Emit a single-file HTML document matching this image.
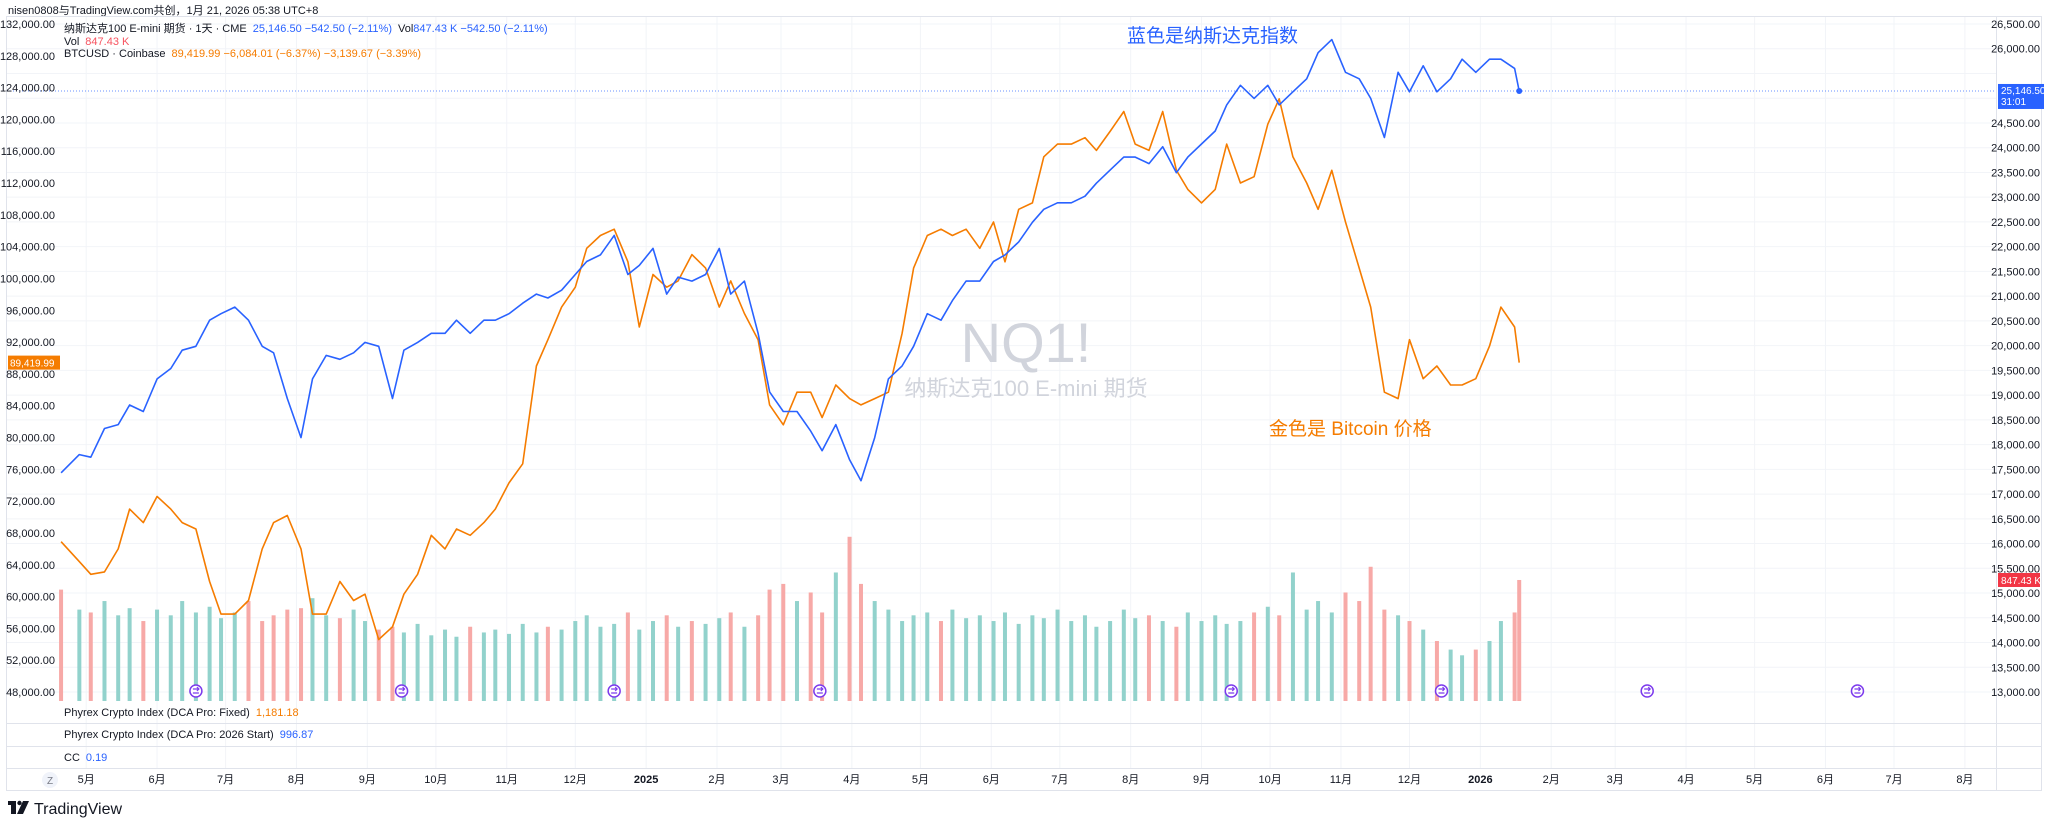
<!DOCTYPE html>
<html><head><meta charset="utf-8"><style>
html,body{margin:0;padding:0;background:#fff;}
svg{display:block;font-family:"Liberation Sans","Noto Sans CJK SC",sans-serif;}
</style></head>
<body>
<svg id="chart" width="2048" height="828" viewBox="0 0 2048 828" xmlns="http://www.w3.org/2000/svg">
  <text x="8" y="14" font-size="11" fill="#131722">nisen0808与TradingView.com共创，1月 21, 2026 05:38 UTC+8</text>
  <rect x="6.5" y="16.5" width="2035" height="774" fill="none" stroke="#e0e3eb"/>
  <g id="grid"></g>
  <g id="vol"></g>
  <g id="lines"></g>
  <g id="axes"></g>
  <g font-size="11">
    <text x="64" y="32"><tspan fill="#131722">纳斯达克100 E-mini 期货 · 1天 · CME</tspan><tspan fill="#2962ff" dx="6">25,146.50  −542.50 (−2.11%)</tspan><tspan fill="#131722" dx="6">Vol</tspan><tspan fill="#2962ff">847.43 K  −542.50 (−2.11%)</tspan></text>
    <text x="64" y="45"><tspan fill="#131722">Vol</tspan><tspan fill="#f7525f" dx="6">847.43 K</tspan></text>
    <text x="64" y="57"><tspan fill="#131722">BTCUSD · Coinbase</tspan><tspan fill="#f57c00" dx="6">89,419.99  −6,084.01 (−6.37%)  −3,139.67 (−3.39%)</tspan></text>
  </g>
  <text x="1026" y="362" font-size="56" fill="#d1d4dc" text-anchor="middle">NQ1!</text>
  <text x="1026" y="396" font-size="22" fill="#d1d4dc" text-anchor="middle">纳斯达克100 E-mini 期货</text>
  <text x="1127" y="42" font-size="19" fill="#2962ff">蓝色是纳斯达克指数</text>
  <text x="1269" y="435" font-size="19" fill="#f57c00">金色是 Bitcoin 价格</text>
  <g font-size="11">
    <line x1="7" x2="2041" y1="723.5" y2="723.5" stroke="#e0e3eb"/>
    <line x1="7" x2="2041" y1="746.5" y2="746.5" stroke="#e0e3eb"/>
    <line x1="7" x2="2041" y1="768.5" y2="768.5" stroke="#e0e3eb"/>
    <text x="64" y="716"><tspan fill="#131722">Phyrex Crypto Index (DCA Pro: Fixed)</tspan><tspan fill="#f57c00" dx="6">1,181.18</tspan></text>
    <text x="64" y="738"><tspan fill="#131722">Phyrex Crypto Index (DCA Pro: 2026 Start)</tspan><tspan fill="#2962ff" dx="6">996.87</tspan></text>
    <text x="64" y="761"><tspan fill="#131722">CC</tspan><tspan fill="#2962ff" dx="6">0.19</tspan></text>
  </g>
  <g><circle cx="50" cy="780" r="8" fill="#f0f3fa"/><text x="50" y="784" font-size="10" fill="#787b86" text-anchor="middle">Z</text></g>
  <g>
    <rect x="8" y="801" width="8" height="4" fill="#131722"/><rect x="11" y="801" width="5" height="13" fill="#131722"/><circle cx="19.5" cy="803" r="2.2" fill="#131722"/><polygon points="23,801 29,801 23,814 17,814" fill="#131722"/>
    <text x="34" y="814" font-size="16" fill="#131722">TradingView</text>
  </g>
</svg>
<script>
// days since 2024-05-01
const days = [-11,-3,2,8,14,19,25,31,37,42,
48,54,59,65,71,77,82,88,94,99,
105,111,117,122,128,134,139,145,151,157,
162,168,174,179,185,191,197,202,208,214,
219,225,231,237,242,248,254,259,265,271,
277,282,288,294,299,305,311,317,322,328,
334,339,345,351,357,362,368,374,379,385,
391,397,402,408,414,419,425,431,437,442,
448,454,459,465,471,477,482,488,494,499,
505,511,517,522,528,534,539,545,551,557,
562,568,574,579,585,591,597,602,608,614,
619,625,627];
const nqClose = [17429,17798,17745,18325,18404,18800,18668,19327,19538,19907,
19987,20514,20646,20778,20514,19987,19855,18932,18141,19327,
19802,19723,19855,20066,19987,18932,19907,20066,20250,20250,
20514,20250,20514,20514,20646,20857,21041,20962,21121,21437,
21701,21833,22228,21437,21622,21964,21041,21384,21305,21437,
21964,21041,21305,20250,19064,18668,18668,18273,17877,18404,
17692,17270,18141,19327,19591,19987,20646,20514,20910,21305,
21305,21701,21833,22096,22492,22755,22887,22887,23019,23283,
23547,23810,23810,23678,24021,23494,23810,24074,24338,24865,
25261,24997,25261,24865,25129,25392,25920,26184,25524,25392,
24997,24206,25524,25129,25656,25129,25392,25788,25524,25788,
25788,25603,25146.5];
const btcClose = [66.9,64.4,62.8,63.1,66.0,71.0,69.3,72.6,71.0,69.3,
68.5,61.9,57.8,57.8,59.5,66.0,69.3,70.2,66.0,57.8,
57.8,61.9,59.5,60.3,54.6,56.2,60.3,62.8,67.7,66.0,
68.5,67.7,69.3,71.0,74.3,76.7,89.0,92.3,96.4,98.9,
103.8,105.4,106.2,102.1,93.9,100.5,98.9,99.7,103.0,101.3,
96.4,99.7,95.6,92.3,84.1,81.6,85.7,85.7,82.5,86.6,
84.9,84.1,84.9,85.7,93.1,101.3,105.4,106.2,105.4,106.2,
103.8,107.1,102.1,108.7,109.5,115.3,116.9,116.9,117.7,116.1,
118.5,121.0,116.9,116.1,121.0,113.6,111.2,109.5,111.2,116.9,
112.0,112.8,119.4,122.6,115.3,112.0,108.7,113.6,107.1,101.3,
96.4,85.7,84.9,92.3,87.4,89.0,86.6,86.6,87.4,91.5,
96.4,93.9,89.42];
const volumeK = [780,640,620,700,600,650,560,640,600,700,
620,660,580,620,700,560,600,640,650,720,
600,580,640,560,500,520,480,540,460,500,
450,520,480,500,470,540,480,520,500,560,
600,520,540,620,500,560,600,520,560,540,
580,620,520,600,780,820,700,760,620,900,
1150,820,700,640,560,600,620,560,640,580,
600,560,620,540,600,580,640,560,600,520,
560,640,580,600,560,520,620,560,600,540,
560,620,660,600,900,640,700,620,760,700,
940,640,600,560,500,420,360,320,360,420,
560,620,847.43];
const rightTicks = [13000,13500,14000,14500,15000,15500,16000,16500,17000,17500,18000,18500,19000,19500,20000,20500,21000,21500,22000,22500,23000,23500,24000,24500,26000,26500];
const leftTicks = [48000,52000,56000,60000,64000,68000,72000,76000,80000,84000,88000,92000,96000,100000,104000,108000,112000,116000,120000,124000,128000,132000];
const monthLabels = ["5月","6月","7月","8月","9月","10月","11月","12月","2025","2月","3月","4月","5月","6月","7月","8月","9月","10月","11月","12月","2026","2月","3月","4月","5月","6月","7月","8月"];
const monthDays = [0,31,61,92,123,153,184,214,245,276,304,335,365,396,426,457,488,518,549,579,610,641,669,700,730,761,791,822];
const eventDays = [48,138,231,321,501,593,683,775];
const lastNq = 25146.5, lastBtc = 89419.99;

const NS="http://www.w3.org/2000/svg";
const PLOT_L=7, PLOT_R=1996, PANE_T=17, PANE_B=701;
const xOf = d => 86.2 + d*2.2855;
const yR = v => 24 + (26500 - v)*668/13500;
const yL = v => 24 + (132000 - v)*668/84000;
const yV = v => PANE_B - v*0.1428;
function mk(tag, attrs, parent){const e=document.createElementNS(NS,tag);for(const k in attrs)e.setAttribute(k,attrs[k]);parent.appendChild(e);return e;}
const grid=document.getElementById('grid'), vol=document.getElementById('vol'), lines=document.getElementById('lines'), axes=document.getElementById('axes');

for(let v=13000; v<=26500; v+=500){
  const l=mk('line',{x1:PLOT_L,x2:PLOT_R,y1:yR(v),y2:yR(v),stroke:'#f2f4f8','stroke-width':1},grid);
  
  
}
monthDays.forEach((d,i)=>{
  const x=xOf(d);
  const l=mk('line',{x1:x,x2:x,y1:PANE_T,y2:768,stroke:'#f2f4f8','stroke-width':1},grid);
  
  
  const bold = monthLabels[i].length===4;
  const t=mk('text',{x:x,y:783,'font-size':11,'text-anchor':'middle',fill:'#131722','font-weight':bold?'bold':'normal'},axes);
  t.textContent=monthLabels[i];
  
  
});
mk('line',{x1:PLOT_R+0.5,x2:PLOT_R+0.5,y1:PANE_T,y2:790,stroke:'#e0e3eb'},grid);

volumeK.forEach((v,i)=>{
  const up = i===0 ? false : nqClose[i]>=nqClose[i-1];
  const x=xOf(days[i]);
  const r=mk('rect',{x:x-2,y:yV(v),width:4,height:PANE_B-yV(v),fill:up?'#92d2cc':'#f7a9a7'},vol);
  
  
});

const btcPts=btcClose.map((v,i)=>xOf(days[i]).toFixed(1)+','+yL(v*1000).toFixed(1)).join(' ');
const btcLine=mk('polyline',{points:btcPts,fill:'none',stroke:'#f57c00','stroke-width':1.6,'stroke-linejoin':'round'},lines);


const nqPts=nqClose.map((v,i)=>xOf(days[i]).toFixed(1)+','+yR(v).toFixed(1)).join(' ');
const nqLine=mk('polyline',{points:nqPts,fill:'none',stroke:'#2962ff','stroke-width':1.6,'stroke-linejoin':'round'},lines);


const py=yR(lastNq);
const pl=mk('line',{x1:PLOT_L,x2:PLOT_R,y1:py,y2:py,stroke:'#2962ff','stroke-width':1,'stroke-dasharray':'1,2',opacity:0.7},lines);


const dot=mk('circle',{cx:xOf(days[days.length-1]),cy:py,r:3,fill:'#2962ff'},lines);



eventDays.forEach(d=>{
  const g=mk('g',{},lines);
  
  
  const x=xOf(d);
  mk('circle',{cx:x,cy:691,r:6,fill:'#fff',stroke:'#7c3aed','stroke-width':1.5},g);
  mk('path',{d:`M${x-3} ${689} L${x+3} ${689} M${x+1} ${687} L${x+3} ${689} L${x+1} ${691} M${x+3} ${693} L${x-3} ${693}`,stroke:'#7c3aed','stroke-width':1.2,fill:'none'},g);
});

rightTicks.forEach(v=>{
  const t=mk('text',{x:2040,y:yR(v)+4,'font-size':11,'text-anchor':'end',fill:'#131722'},axes);
  t.textContent=v.toLocaleString('en-US',{minimumFractionDigits:2});
  
  
});
leftTicks.forEach(v=>{
  const t=mk('text',{x:55,y:yL(v)+4,'font-size':11,'text-anchor':'end',fill:'#131722'},axes);
  t.textContent=v.toLocaleString('en-US',{minimumFractionDigits:2});
  
  
});
const tg=mk('g',{},axes);


mk('rect',{x:1998,y:py-7,width:46,height:25,fill:'#2962ff'},tg);
const t1=mk('text',{x:2001,y:py+3,'font-size':10,fill:'#fff'},tg); t1.textContent='25,146.50';
const t2=mk('text',{x:2001,y:py+14,'font-size':10,fill:'#fff'},tg); t2.textContent='31:01';
const vy=yV(volumeK[volumeK.length-1]);
const vg=mk('g',{},axes);


mk('rect',{x:1998,y:vy-7,width:42,height:14,fill:'#f23645'},vg);
const t3=mk('text',{x:2001,y:vy+4,'font-size':10,fill:'#fff'},vg); t3.textContent='847.43 K';
const by=yL(lastBtc);
const bg=mk('g',{},axes);


mk('rect',{x:8,y:by-7,width:52,height:14,fill:'#f57c00'},bg);
const t4=mk('text',{x:10,y:by+4,'font-size':10,fill:'#fff'},bg); t4.textContent='89,419.99';
</script>
</body></html>
